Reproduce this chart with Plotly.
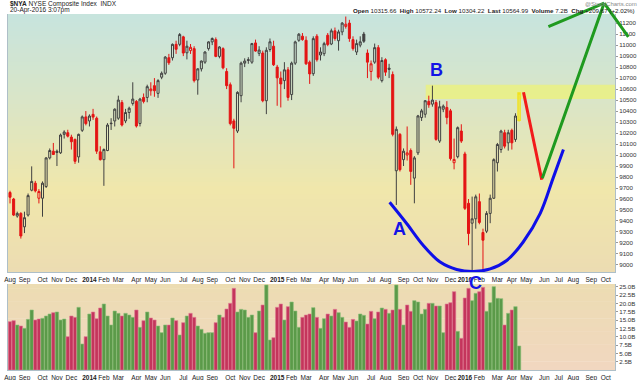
import plotly.graph_objects as go
import pandas as pd

# ---------------- data (weekly bars, NYSE Composite) ----------------
first_week = "2013-08-05"
opens = [9659, 9600, 9445, 9469, 9347, 9454, 9680, 9744, 9607, 9607,
         9714, 9974, 10035, 10035, 10020, 10188, 10203, 10163, 10142, 9983,
         10225, 10347, 10310, 10370, 10335, 10029, 9958, 10041, 10290, 10310,
         10335, 10478, 10310, 10387, 10469, 10488, 10287, 10524, 10524, 10585,
         10631, 10561, 10708, 10744, 10885, 10885, 11007, 11007, 11075, 10930,
         10950, 10968, 10683, 10784, 10845, 10968, 11029, 11050, 10897, 10968,
         10760, 10640, 10310, 10218, 10540, 10836, 10860, 10845, 11020, 10925,
         10928, 10494, 10960, 10990, 10800, 10700, 10677, 10775, 10550, 10836,
         11044, 11081, 11044, 10845, 10740, 11081, 10910, 10922, 11090, 11010,
         11130, 11040, 11120, 11170, 11200, 11050, 10937, 11000, 11100, 10928,
         10760, 10845, 10977, 10677, 10867, 10790, 10732, 9857, 10188, 9958,
         10000, 10041, 9790, 10020, 10341, 10371, 10488, 10463, 10478, 10127,
         10417, 10433, 10402, 9930, 9985, 10218, 10010, 9561, 9380, 9420,
         9576, 9295, 9307, 9469, 9607, 9930, 10050, 10203, 10111, 10225,
         10142, 10315.66]
highs = [9675, 9610, 9485, 9480, 9485, 9650, 9897, 9765, 9690, 9760,
         9980, 10060, 10110, 10050, 10195, 10225, 10230, 10185, 10150, 10195,
         10360, 10400, 10370, 10420, 10350, 10080, 10060, 10290, 10335, 10425,
         10540, 10500, 10420, 10440, 10662, 10500, 10520, 10560, 10640, 10662,
         10700, 10690, 10760, 10900, 10920, 11015, 11040, 11110, 11085, 11040,
         11010, 10990, 10790, 10860, 10945, 11035, 11070, 11070, 10990, 10980,
         10790, 10660, 10330, 10580, 10850, 10880, 10890, 11020, 11050, 10990,
         10950, 10980, 11060, 11040, 10820, 10760, 10845, 10800, 10850, 11040,
         11110, 11110, 11080, 10860, 11080, 11100, 10980, 11030, 11110, 11150,
         11160, 11140, 11210, 11260, 11230, 11080, 11050, 11080, 11120, 10960,
         10860, 11014, 11000, 10890, 10880, 10830, 10760, 10260, 10200, 10060,
         10260, 10060, 9990, 10365, 10420, 10500, 10540, 10631, 10500, 10494,
         10460, 10490, 10420, 10150, 10260, 10280, 10030, 9600, 9622, 9640,
         9650, 9330, 9490, 9640, 9970, 10110, 10230, 10230, 10230, 10240,
         10380, 10572.24]
lows = [9560, 9445, 9430, 9240, 9290, 9440, 9670, 9660, 9560, 9439,
        9700, 9960, 10000, 9900, 10010, 10150, 10160, 10050, 9919, 9930,
        10210, 10270, 10260, 10320, 10010, 9950, 9720, 10035, 10228, 10260,
        10320, 10260, 10290, 10330, 10450, 10250, 10260, 10470, 10480, 10540,
        10530, 10520, 10690, 10730, 10820, 10860, 10920, 10990, 10900, 10870,
        10920, 10660, 10549, 10760, 10830, 10950, 11000, 10890, 10880, 10780,
        10600, 10270, 9879, 10200, 10480, 10800, 10830, 10830, 10940, 10900,
        10480, 10372, 10940, 10810, 10448, 10433, 10600, 10494, 10500, 10820,
        11030, 11040, 10820, 10647, 10720, 10850, 10860, 10900, 10990, 11000,
        11040, 10950, 11090, 11150, 11030, 10950, 10910, 10980, 11020, 10700,
        10677, 10830, 10690, 10660, 10720, 10700, 10170, 9546, 9850, 9900,
        9950, 9729, 9561, 10000, 10310, 10340, 10430, 10440, 10130, 10110,
        10390, 10280, 9950, 9870, 9970, 10110, 9500, 9179, 8950, 9330,
        9370, 8950, 9290, 9380, 9600, 9850, 10020, 10060, 10040, 10050,
        10120, 10304.22]
closes = [9616, 9454, 9469, 9264, 9430, 9631, 9760, 9674, 9668, 9744,
          9974, 10041, 10005, 10023, 10182, 10209, 10172, 10121, 9943, 10188,
          10347, 10286, 10355, 10345, 10035, 9958, 10050, 10273, 10286, 10417,
          10500, 10273, 10387, 10426, 10509, 10264, 10509, 10488, 10622, 10601,
          10585, 10677, 10744, 10891, 10839, 11007, 10962, 11096, 10928, 10990,
          10980, 10677, 10784, 10855, 10937, 11029, 11060, 10897, 10983, 10793,
          10631, 10286, 10243, 10570, 10836, 10855, 10867, 11014, 10946, 10955,
          10494, 10953, 11030, 10821, 10702, 10647, 10775, 10524, 10836, 11029,
          11099, 11050, 10830, 10738, 11059, 10867, 10937, 11013, 11005, 11130,
          11060, 11120, 11200, 11190, 11060, 10968, 11014, 11030, 11035, 10845,
          10830, 10977, 10708, 10860, 10754, 10780, 10188, 10234, 9867, 10035,
          10020, 9851, 9974, 10356, 10402, 10494, 10457, 10500, 10142, 10439,
          10445, 10341, 9968, 9960, 10249, 10127, 9515, 9286, 9420, 9620,
          9387, 9225, 9469, 9607, 9958, 10096, 10218, 10081, 10203, 10111,
          10355, 10564.99]
volumes_b = [14.5, 14.8, 13.5, 13.2, 12.5, 15.2, 18.0, 15.0, 15.3, 15.5,
             16.2, 16.8, 17.2, 17.4, 15.0, 15.3, 10.0, 16.2, 15.8, 18.8,
             7.8, 10.0, 16.8, 17.4, 15.4, 18.6, 19.8, 16.2, 13.5, 17.7,
             17.0, 16.2, 17.0, 16.5, 15.8, 18.0, 12.8, 14.8, 17.4, 15.6,
             15.0, 13.2, 11.2, 13.5, 13.5, 15.6, 14.8, 10.5, 14.2, 16.2,
             17.0, 15.8, 13.2, 12.2, 11.0, 11.2, 11.2, 14.2, 16.5, 15.8,
             18.3, 20.0, 24.5, 17.4, 18.2, 18.0, 15.8, 16.5, 11.2, 17.7,
             19.5, 25.5, 9.0, 9.7, 18.8, 19.8, 15.0, 19.0, 20.4, 17.7,
             12.8, 15.8, 16.5, 16.8, 18.7, 15.8, 12.5, 15.4, 16.8, 16.2,
             18.2, 17.2, 15.8, 14.4, 12.8, 15.2, 14.7, 16.8, 16.4, 13.8,
             17.6, 15.4, 17.4, 18.6, 18.2, 17.0, 18.0, 25.5, 18.2, 13.5,
             19.5, 17.6, 20.8, 20.4, 16.8, 18.2, 20.0, 20.0, 19.2, 19.2,
             11.2, 19.8, 20.2, 23.5, 11.6, 9.5, 21.6, 24.5, 20.8, 23.0,
             23.5, 24.8, 17.6, 20.2, 25.0, 21.5, 21.4, 13.5, 17.0, 18.0,
             19.0, 7.2]
chg_points = 209.67
chg_pct = 2.02

price_ticks = list(range(9000, 11201, 100))
volume_ticks = [2.5, 5.0, 7.5, 10.0, 12.5, 15.0, 17.5, 20.0, 22.5, 25.0]

# hand-drawn annotation paths (date, price)
curve_dates = ["2015-08-11", "2015-09-13", "2015-10-15", "2015-11-17", "2015-12-19", "2016-01-20",
               "2016-02-22", "2016-03-25", "2016-04-26", "2016-05-29", "2016-06-23", "2016-07-13"]
curve_prices = [9570, 9377, 9179, 9026, 8959, 8940, 8964, 9041, 9209, 9469, 9790, 10050]
red_path = [("2016-04-26", 10585), ("2016-06-01", 9775)]
green_path = [("2016-06-01", 9775), ("2016-09-30", 11383)]
green_wings = [("2016-06-11", 11163), ("2016-11-18", 11062)]
band_start, band_low, band_high = "2015-10-20", 10510, 10640
label_A = ("2015-08-31", 9331)
label_B = ("2015-11-09", 10775)
label_C_date = "2016-01-24"

x_range = ["2013-08-01 02:00", "2016-10-21"]

# ---------------- derived ----------------
dates = pd.date_range(first_week, periods=len(closes), freq="7D")
n = len(closes)
up = [closes[i] >= (closes[i - 1] if i > 0 else opens[0]) for i in range(n)]

FONT = "Liberation Sans, Arial, sans-serif"
RED = "#e41414"
BLK = "#404040"

fig = go.Figure()

def candle_trace(idx, color, fill_dec, line_w=1.0):
    return go.Candlestick(
        x=[dates[i] for i in idx], open=[opens[i] for i in idx], high=[highs[i] for i in idx],
        low=[lows[i] for i in idx], close=[closes[i] for i in idx],
        increasing=dict(line=dict(color=color, width=line_w), fillcolor="rgba(0,0,0,0)"),
        decreasing=dict(line=dict(color=color, width=line_w), fillcolor=fill_dec),
        whiskerwidth=0, showlegend=False, hoverinfo="skip", xaxis="x", yaxis="y")

black_idx = [i for i in range(n - 1) if up[i]]
red_idx = [i for i in range(n - 1) if not up[i]]
fig.add_trace(candle_trace(black_idx, BLK, BLK))
fig.add_trace(candle_trace(red_idx, RED, RED))
fig.add_trace(candle_trace([n - 1], "#f2e21a", "#f2e21a", 1.5))

fig.add_trace(go.Scatter(x=curve_dates, y=curve_prices, mode="lines",
                         line=dict(color="#0f0fe8", width=3, shape="spline"),
                         hoverinfo="skip", showlegend=False, xaxis="x", yaxis="y"))

vol_colors = ["#5b9a49" if u else "#c4355c" for u in up]
vol_edges = ["#8cc07a" if u else "#e07a96" for u in up]
fig.add_trace(go.Bar(x=dates, y=volumes_b, marker=dict(color=vol_colors, line=dict(color=vol_edges, width=0.6)),
                     hoverinfo="skip", showlegend=False, xaxis="x2", yaxis="y2"))

# ---------------- background gradient ----------------
def mix(stops, t):
    for (t0, c0), (t1, c1) in zip(stops[:-1], stops[1:]):
        if t <= t1:
            f = (t - t0) / (t1 - t0)
            return "rgb(%d,%d,%d)" % tuple(round(a + (b - a) * f) for a, b in zip(c0, c1))
    return "rgb(%d,%d,%d)" % stops[-1][1]

price_stops = [(0.0, (199, 228, 222)), (0.35, (218, 229, 198)), (0.68, (240, 231, 171)), (1.0, (236, 220, 178))]
vol_stops = [(0.0, (236, 220, 178)), (1.0, (241, 215, 192))]
shapes = []
N = 60
for k in range(N):
    shapes.append(dict(type="rect", xref="x domain", yref="y domain", x0=0, x1=1,
                       y0=1 - (k + 1) / N - 0.003, y1=1 - k / N, layer="below",
                       fillcolor=mix(price_stops, (k + 0.5) / N), line=dict(width=0)))
M = 20
for k in range(M):
    shapes.append(dict(type="rect", xref="x2 domain", yref="y2 domain", x0=0, x1=1,
                       y0=1 - (k + 1) / M - 0.005, y1=1 - k / M, layer="below",
                       fillcolor=mix(vol_stops, (k + 0.5) / M), line=dict(width=0)))
shapes.append(dict(type="rect", xref="x", yref="y", x0=band_start, x1=x_range[1], y0=band_low, y1=band_high,
                   layer="below", fillcolor="rgba(236,242,120,0.75)", line=dict(width=0)))

# ---------------- annotations ----------------
ann = []
def line_ann(tail, head, color):
    ann.append(dict(x=head[0], y=head[1], ax=tail[0], ay=tail[1], xref="x", yref="y", axref="x", ayref="y",
                    text="", showarrow=True, arrowhead=0, arrowwidth=3, arrowcolor=color, standoff=0, startstandoff=0))

line_ann(red_path[0], red_path[1], "#f21b1b")
line_ann(green_path[0], green_path[1], "#1f9a1f")
for w in green_wings:
    line_ann(w, green_path[1], "#1f9a1f")

def px(xp):
    return (xp - 8) / 607.0

def py(yp):
    return (370 - yp) / 356.0

for txt, pos in (("A", label_A), ("B", label_B)):
    ann.append(dict(x=pos[0], y=pos[1], xref="x", yref="y", text="<b>%s</b>" % txt, showarrow=False,
                    xanchor="center", yanchor="middle",
                    font=dict(family=FONT, size=18, color="#1414e6")))
ann.append(dict(x=label_C_date, y=py(283), xref="x", yref="paper", text="<b>C</b>", showarrow=False,
                xanchor="center", yanchor="middle",
                font=dict(family=FONT, size=18, color="#1414e6")))

ann.append(dict(x=px(8), y=py(4.5), xref="paper", yref="paper", xanchor="left", yanchor="middle", showarrow=False,
                text="<b>$NYA</b> NYSE Composite Index  INDX", font=dict(family=FONT, size=6.5, color="#222")))
ann.append(dict(x=px(8), y=py(10.5), xref="paper", yref="paper", xanchor="left", yanchor="middle", showarrow=False,
                text="20-Apr-2016 3:07pm", font=dict(family=FONT, size=6.5, color="#222")))
hdr = ("<b>Open</b> %.2f  <b>High</b> %.2f  <b>Low</b> %.2f  <b>Last</b> %.2f  <b>Volume</b> %.1fB  "
       "<b>Chg</b> +%.2f (+%.2f%%)") % (opens[-1], highs[-1], lows[-1], closes[-1], volumes_b[-1], chg_points, chg_pct)
ann.append(dict(x=px(351), y=py(10.5), xref="paper", yref="paper", xanchor="left", yanchor="middle", showarrow=False,
                text=hdr, font=dict(family=FONT, size=6.2, color="#222")))
ann.append(dict(x=px(583), y=py(4.5), xref="paper", yref="paper", xanchor="left", yanchor="middle", showarrow=False,
                text="@StockCharts.com", font=dict(family=FONT, size=6, color="#8a8a8a")))

# ---------------- axes ----------------
grid = pd.date_range(first_week, "2016-10-31", freq="7D")
s = pd.Series(grid, index=grid)
tickvals = list(s.groupby([grid.year, grid.month]).first())
ticktext = ["<b>%d</b>" % d.year if d.month == 1 else d.strftime("%b") for d in tickvals]

xcommon = dict(type="date", range=x_range, tickmode="array", tickvals=tickvals, ticktext=ticktext,
               ticks="", showgrid=False, zeroline=False, tickangle=0, automargin=False,
               tickfont=dict(family=FONT, size=6.5, color="#222"), ticklabelstandoff=1)
axis_line = "#aebfc8"

fig.update_layout(
    width=640, height=380, margin=dict(l=8, r=25, t=14, b=10),
    paper_bgcolor="white", plot_bgcolor="rgba(0,0,0,0)",
    boxgap=0.2, bargap=0.06, showlegend=False,
    xaxis=dict(**xcommon, domain=[0, 1], anchor="y", rangeslider=dict(visible=False),
               showline=True, linecolor=axis_line, mirror=False),
    yaxis=dict(domain=[98 / 356, 1], range=[8936, 11283], side="right", tickmode="array", automargin=False,
               tickvals=price_ticks, ticktext=[str(v) for v in price_ticks], ticks="outside", ticklen=2,
               tickcolor="#999", showgrid=False, zeroline=False, showline=True, mirror=True, linecolor=axis_line,
               tickfont=dict(family=FONT, size=6.2, color="#333")),
    xaxis2=dict(**xcommon, domain=[0, 1], anchor="y2", matches="x", showline=True, linecolor=axis_line),
    yaxis2=dict(domain=[0, 86 / 356], range=[0, 25.8], side="right", tickmode="array", automargin=False,
                tickvals=volume_ticks, ticktext=["%.1fB" % v for v in volume_ticks], ticks="outside", ticklen=2,
                tickcolor="#999", showgrid=False, zeroline=False, showline=True, mirror=True, linecolor=axis_line,
                tickfont=dict(family=FONT, size=6.2, color="#333")),
    shapes=shapes, annotations=ann,
)

fig.write_html("out.html", config={"displayModeBar": False})
